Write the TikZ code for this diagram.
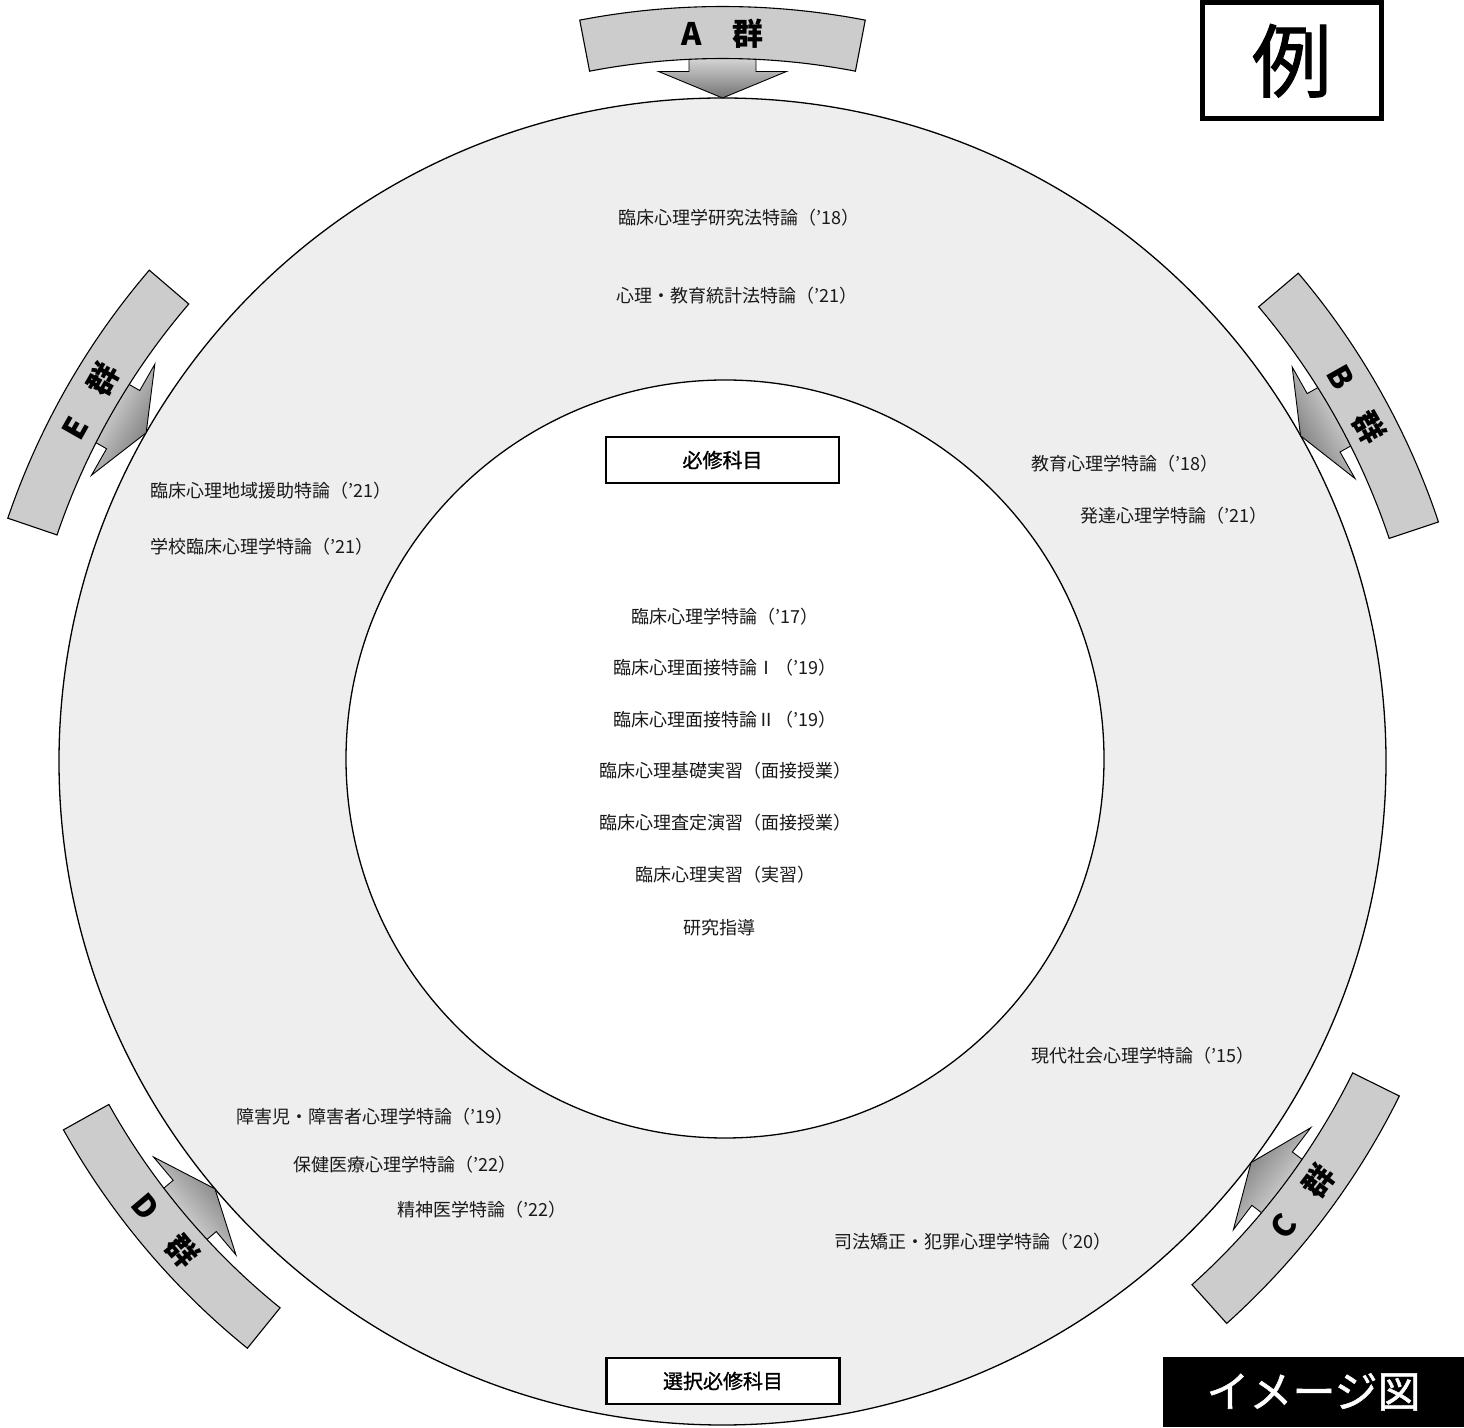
\documentclass[tikz,border=0pt]{standalone}
\usepackage{fontspec}
\setmainfont{Noto Sans CJK JP}
\newfontfamily\medfont[FakeBold=1.2]{Noto Sans CJK JP}
\usetikzlibrary{calc}
\definecolor{ringfill}{HTML}{EEEEEE}
\definecolor{bandfill}{HTML}{CBCCCB}
\begin{document}
\begin{tikzpicture}[x=1pt,y=1pt,
  course/.style={font=\fontsize{18}{20}\selectfont, inner sep=0pt, text=black!90},
  labelbox/.style={draw, line width=2.5pt, fill=white, minimum width=233pt, minimum height=46pt, inner sep=0pt, font=\medfont\fontsize{20}{22}\selectfont},
  band/.style={fill=bandfill, draw=black, line width=1.1pt},
  grparrow/.style={draw=black, line width=0.9pt, top color=black!4, bottom color=black!55},
  grplabel/.style={font=\bfseries\fontsize{31}{33}\selectfont, inner sep=0pt}]
\useasboundingbox (0,0) rectangle (1464,1427);
\coordinate (O) at (722.5,665.5);
\node[circle, draw, line width=1.3pt, fill=ringfill, minimum size=1327pt, inner sep=0pt] (outer) at (O) {};
\node[circle, draw, line width=1.3pt, fill=white, minimum size=758pt, inner sep=0pt] (inner) at (725,668) {};
% group banners with arrows
\foreach \t/\g/\r in {90/A/0, 29.4/B/-60.6, -37.2/C/52.8, -139.9/D/-49.9, 150.3/E/60.3}{
  \pgfmathsetmacro\sa{\t-90}
  \pgfmathsetmacro\pa{\t-90}
  \pgfmathsetmacro\pb{\t+90}
  \pgfmathsetmacro\aa{\t-10.9}
  \pgfmathsetmacro\ab{\t+10.9}
  \shadedraw[grparrow, shading angle=\sa]
    ($(O)+(\t:663.5)$) coordinate (tip\g)
    -- ($(O)+(\t:690)+(\pa:64)$)
    -- ($(O)+(\t:690)+(\pa:33.5)$)
    -- ($(O)+(\t:716)+(\pa:33.5)$)
    -- ($(O)+(\t:716)+(\pb:33.5)$)
    -- ($(O)+(\t:690)+(\pb:33.5)$)
    -- ($(O)+(\t:690)+(\pb:64)$) -- cycle;
  \filldraw[band] ($(O)+(\aa:703)$) arc[start angle=\aa, end angle=\ab, radius=703]
    -- ($(O)+(\ab:755)$) arc[start angle=\ab, end angle=\aa, radius=755] -- cycle;
  \node[grplabel, rotate=\r] (lab\g) at ($(O)+(\t:728)$) {\g　群};
}
% boxes
\node[labelbox] (req) at (722.5,967) {必修科目};
\node[labelbox] (sel) at (723,46) {選択必修科目};
% outer ring courses
\node[course, anchor=west] (c1) at (618,1209) {臨床心理学研究法特論（'18）};
\node[course, anchor=west] (c2) at (616,1131) {心理・教育統計法特論（'21）};
\node[course, anchor=west] (c3) at (1031,963) {教育心理学特論（'18）};
\node[course, anchor=west] (c4) at (1080,911) {発達心理学特論（'21）};
\node[course, anchor=west] (c5) at (150,936) {臨床心理地域援助特論（'21）};
\node[course, anchor=west] (c6) at (150,880) {学校臨床心理学特論（'21）};
\node[course, anchor=west] (c7) at (1031,371) {現代社会心理学特論（'15）};
\node[course, anchor=west] (c8) at (236,310) {障害児・障害者心理学特論（'19）};
\node[course, anchor=west] (c9) at (293,262) {保健医療心理学特論（'22）};
\node[course, anchor=west] (c10) at (397,217) {精神医学特論（'22）};
\node[course, anchor=west] (c11) at (834,185) {司法矯正・犯罪心理学特論（'20）};
% inner courses
\node[course] (r1) at (725,810) {臨床心理学特論（'17）};
\node[course] (r2) at (725,759) {臨床心理面接特論Ⅰ（'19）};
\node[course] (r3) at (725,707) {臨床心理面接特論Ⅱ（'19）};
\node[course] (r4) at (725,656) {臨床心理基礎実習（面接授業）};
\node[course] (r5) at (725,604) {臨床心理査定演習（面接授業）};
\node[course] (r6) at (725,552) {臨床心理実習（実習）};
\node[course] (r7) at (719,499) {研究指導};
% corner labels
\node[draw, line width=5pt, minimum width=178.5pt, minimum height=116.5pt, inner sep=0pt, font=\medfont\fontsize{80}{80}\selectfont] (rei) at (1291.75,1366.25) {例};
\node[fill=black, minimum width=301pt, minimum height=70pt, inner sep=0pt, text=white, font=\medfont\fontsize{43}{43}\selectfont] (image) at (1313.5,35) {イメージ図};
\end{tikzpicture}
\end{document}
